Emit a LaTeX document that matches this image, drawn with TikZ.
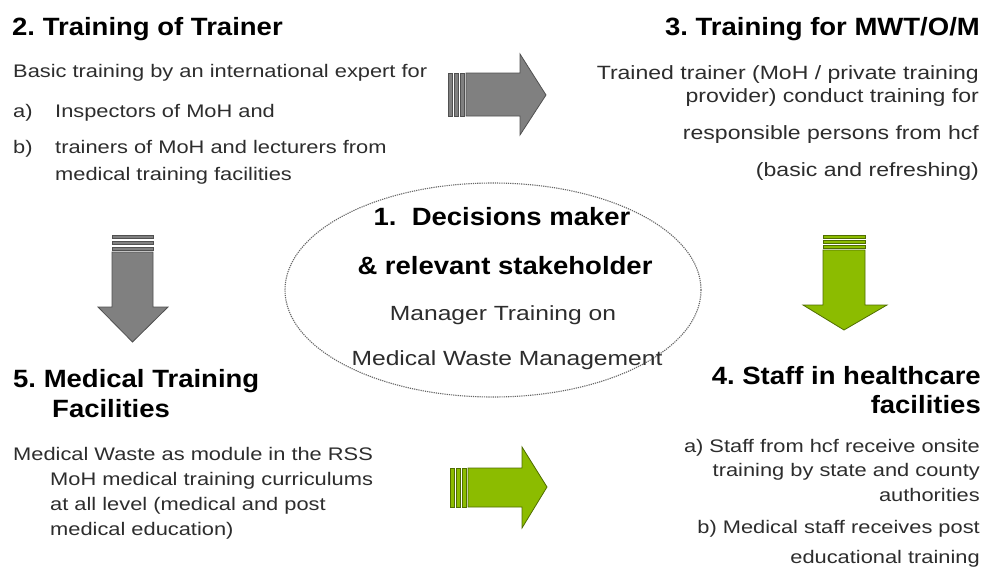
\documentclass[tikz,border=0pt]{standalone}
\usepackage{fontspec}
\setmainfont{Liberation Sans}
\newfontfamily\hfont[FakeStretch=1.1]{Liberation Sans}
\newfontfamily\bodyfnt[FakeStretch=1.2]{Liberation Sans}
\usetikzlibrary{shapes.geometric}
\frenchspacing
\definecolor{agreen}{RGB}{140,188,0}
\definecolor{agreendk}{RGB}{80,110,0}
\definecolor{agray}{RGB}{128,128,128}
\definecolor{agraydk}{RGB}{80,80,80}
\definecolor{txt}{RGB}{45,45,45}
\begin{document}
\begin{tikzpicture}[x=1pt,y=-1pt,
  ttl/.style={inner sep=0pt, font=\hfont\bfseries\fontsize{25}{30}\selectfont, text=black},
  bod/.style={inner sep=0pt, font=\bodyfnt\fontsize{18.2}{22}\selectfont, text=txt},
  bodr/.style={inner sep=0pt, font=\bodyfnt\fontsize{19.2}{23}\selectfont, text=txt},
  ebod/.style={inner sep=0pt, font=\bodyfnt\fontsize{20.5}{24}\selectfont, text=txt},
  grayarrow/.style={fill=agray, draw=agraydk, line width=0.8pt, line join=miter},
  greenarrow/.style={fill=agreen, draw=agreendk, line width=0.8pt, line join=miter},
  oval/.style={ellipse, draw=black!60, dash pattern=on 1.2pt off 1pt, line width=1.1pt, minimum width=416pt, minimum height=214pt, inner sep=0pt}
]
\useasboundingbox (0,0) rectangle (988,581);
\fill[white] (0,0) rectangle (988,581);

% central ellipse
\node[oval] (core) at (493,290) {};
\node[ttl, anchor=base] (c1) at (502,225) {1.\ \ Decisions maker};
\node[ttl, anchor=base] (c2) at (505,274) {\& relevant stakeholder};
\node[ebod, anchor=base] (c3) at (503,320) {Manager Training on};
\node[ebod, anchor=base] (c4) at (507,365) {Medical Waste Management};

% top-left block
\node[ttl, anchor=base west] (t2) at (12,35) {2. Training of Trainer};
\node[bod, anchor=base west] (t2a) at (13,77) {Basic training by an international expert for};
\node[bod, anchor=base west] (t2b1) at (13,117) {a)};
\node[bod, anchor=base west] (t2b2) at (55,117) {Inspectors of MoH and};
\node[bod, anchor=base west] (t2c1) at (13,153) {b)};
\node[bod, anchor=base west] (t2c2) at (55,153) {trainers of MoH and lecturers from};
\node[bod, anchor=base west] (t2c3) at (55,180) {medical training facilities};

% top-right block
\node[ttl, anchor=base east] (t3) at (980,35) {3. Training for MWT/O/M};
\node[bodr, anchor=base east] (t3a) at (979,79) {Trained trainer (MoH / private training};
\node[bodr, anchor=base east] (t3b) at (979,102) {provider) conduct training for};
\node[bodr, anchor=base east] (t3c) at (979,139) {responsible persons from hcf};
\node[bodr, anchor=base east] (t3d) at (979,176) {(basic and refreshing)};

% bottom-left block
\node[ttl, anchor=base west] (t5) at (13,387) {5. Medical Training};
\node[ttl, anchor=base west] (t5b) at (52,417) {Facilities};
\node[bod, anchor=base west] (t5c) at (13,460) {Medical Waste as module in the RSS};
\node[bod, anchor=base west] (t5d) at (50,485) {MoH medical training curriculums};
\node[bod, anchor=base west] (t5e) at (50,510) {at all level (medical and post};
\node[bod, anchor=base west] (t5f) at (50,535) {medical education)};

% bottom-right block
\node[ttl, anchor=base east] (t4) at (981,384) {4. Staff in healthcare};
\node[ttl, anchor=base east] (t4b) at (981,413) {facilities};
\node[bod, anchor=base east] (t4c) at (980,452) {a) Staff from hcf receive onsite};
\node[bod, anchor=base east] (t4d) at (980,476) {training by state and county};
\node[bod, anchor=base east] (t4e) at (980,501) {authorities};
\node[bod, anchor=base east] (t4f) at (980,533) {b) Medical staff receives post};
\node[bod, anchor=base east] (t4g) at (980,563) {educational training};

% top arrow (gray, right)
\draw[grayarrow] (448,73) rectangle (452,116);
\draw[grayarrow] (454,73) rectangle (458,116);
\draw[grayarrow] (460,73) rectangle (464,116);
\draw[grayarrow] (466,73) -- (520,73) -- (520,54) -- (546,95) -- (520,135) -- (520,116) -- (466,116) -- cycle;

% bottom arrow (green, right)
\draw[greenarrow] (450,468) rectangle (454,507);
\draw[greenarrow] (456,468) rectangle (460,507);
\draw[greenarrow] (462,468) rectangle (466,507);
\draw[greenarrow] (468,468) -- (522,468) -- (522,447) -- (547,487) -- (522,528) -- (522,507) -- (468,507) -- cycle;

% left arrow (gray, down)
\draw[grayarrow] (112,235) rectangle (153,238);
\draw[grayarrow] (112,241) rectangle (153,244);
\draw[grayarrow] (112,247) rectangle (153,250);
\draw[grayarrow] (112,252) -- (112,307) -- (98,307) -- (132.5,342) -- (168,307) -- (153,307) -- (153,252) -- cycle;

% right arrow (green, down)
\draw[greenarrow] (823,235) rectangle (865,238);
\draw[greenarrow] (823,240) rectangle (865,243);
\draw[greenarrow] (823,245) rectangle (865,248);
\draw[greenarrow] (823,250) -- (823,305) -- (803,305) -- (844,330) -- (887,305) -- (865,305) -- (865,250) -- cycle;
\end{tikzpicture}
\end{document}
